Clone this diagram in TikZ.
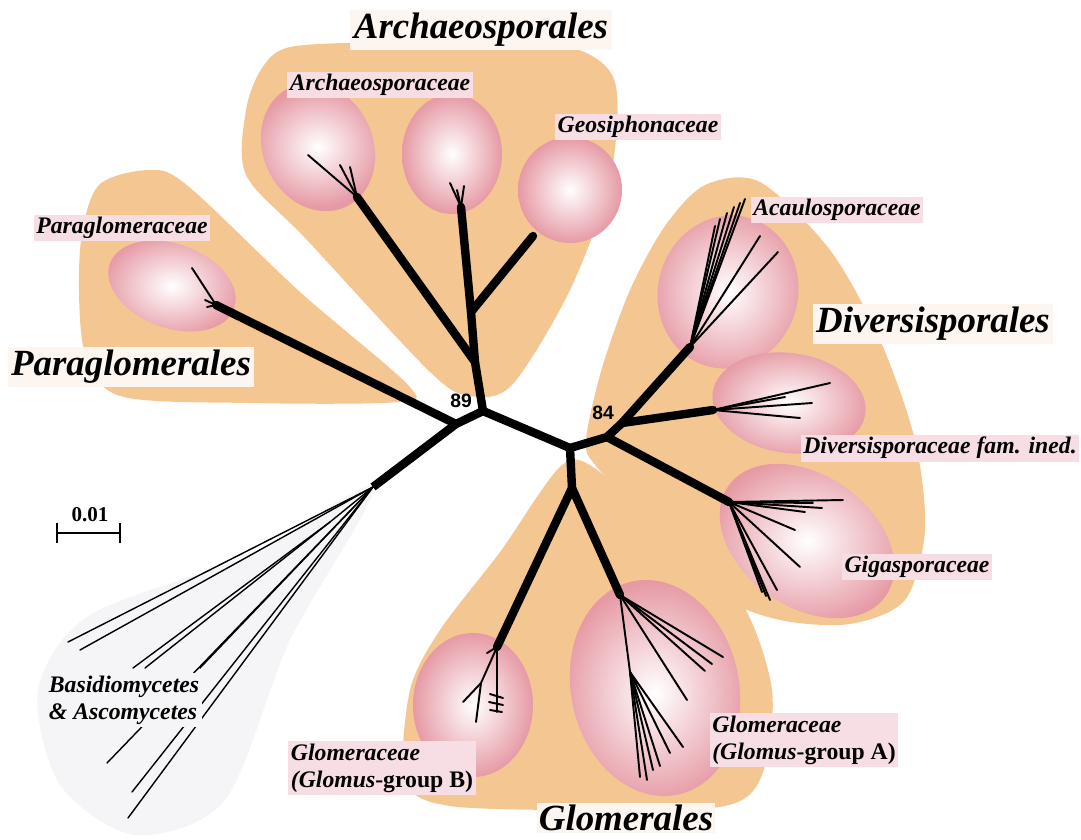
\documentclass[tikz,border=0pt]{standalone}
\usepackage{fontspec}
\setmainfont{Liberation Serif}
\newfontfamily\bootfont{Liberation Sans}
\usetikzlibrary{calc}
\definecolor{ordfill}{RGB}{244,199,146}
\definecolor{famrim}{RGB}{230,154,165}
\definecolor{famlbl}{RGB}{247,222,228}
\definecolor{ordlbl}{RGB}{253,246,240}
\definecolor{ogfill}{RGB}{245,245,247}

\begin{document}
\begin{tikzpicture}[x=0.02cm,y=-0.02cm,
  fam/.style={inner color=white,outer color=famrim},
  stem/.style={line width=4.8pt,line cap=round,line join=round},
  twig/.style={line width=1.1pt,line cap=round},
  hair/.style={line width=0.8pt,line cap=round},
  famname/.style={fill=famlbl,inner sep=1.5pt,align=left,font=\fontsize{13.5}{15.5}\selectfont\bfseries\itshape},
  ordname/.style={fill=ordlbl,inner sep=2pt,font=\fontsize{21}{23}\selectfont\bfseries\itshape},
  boot/.style={inner sep=0pt,font=\bootfont\fontsize{11}{12}\selectfont\bfseries}]
\useasboundingbox (0,0) rectangle (1081,839);
% shaded groups
\fill[ogfill] plot[smooth cycle] coordinates {(373,487) (250,555) (90,615) (38,690) (60,785) (135,835) (225,800) (290,640)};
\fill[ordfill] plot[smooth cycle] coordinates {(290,47) (380,42) (470,42) (570,47) (615,82) (610,180) (570,290) (512,385) (470,396) (430,372) (307,240) (246,175) (246,110) (262,68)};
\fill[ordfill] plot[smooth cycle] coordinates {(98,186) (150,170) (188,186) (300,292) (408,385) (398,402) (250,403) (120,396) (84,350) (80,250)};
\fill[ordfill] plot[smooth cycle] coordinates {(586,440) (602,368) (630,290) (665,226) (705,185) (760,182) (830,250) (880,340) (915,440) (925,530) (905,600) (850,624) (780,620) (720,595) (650,522) (596,466)};
\fill[ordfill] plot[smooth cycle] coordinates {(562,465) (600,472) (670,540) (740,600) (772,690) (762,775) (725,806) (600,810) (450,806) (405,780) (410,690) (440,630) (500,552)};
% families
\shade[fam,rotate around={25:(318,147)}] (318,147) ellipse (55 and 66);
\shade[fam] (452,154) ellipse (50 and 60);
\shade[fam] (570,190) ellipse (52 and 53);
\shade[fam,rotate around={-20:(172,286)}] (172,286) ellipse (66 and 42);
\shade[fam,rotate around={-15:(728,292)}] (728,292) ellipse (70 and 77);
\shade[fam,rotate around={-8:(789,403)}] (789,403) ellipse (77 and 50);
\shade[fam,rotate around={-35:(807,541)}] (807,541) ellipse (96 and 66);
\shade[fam] (473,705) ellipse (60 and 72);
\shade[fam,rotate around={12:(655,688)}] (655,688) ellipse (84 and 109);
% tree
\coordinate (n89) at (483,411); \coordinate (lf) at (456,424); \coordinate (a1) at (475,362); \coordinate (a2) at (471,312);
\coordinate (a1e) at (357,197); \coordinate (a2e) at (461,207); \coordinate (geo) at (533,236); \coordinate (pge) at (216,305);
\coordinate (og) at (373,487); \coordinate (cr) at (570,448); \coordinate (dv) at (607,437); \coordinate (n84) at (622,423);
\coordinate (ac) at (690,347); \coordinate (ds) at (713,410); \coordinate (gi) at (729,502);
\coordinate (gl) at (572,488); \coordinate (gb) at (497,647); \coordinate (ga) at (620,595);
\draw[stem] (pge)--(lf)--(n89)--(a1)--(a2)--(a2e); \draw[stem] (a1)--(a1e); \draw[stem] (a2)--(geo);
\draw[stem,line cap=butt] (lf)--(og);
\draw[stem] (n89)--(cr)--(dv)--(n84)--(ac); \draw[stem] (n84)--(ds); \draw[stem] (dv)--(gi);
\draw[stem] (cr)--(gl)--(gb); \draw[stem] (gl)--(ga);
\foreach \p in {(308,155),(340,165),(350,167)} \draw[twig] (a1e)--\p;
\foreach \p in {(450,183),(464,186),(457,190)} \draw[twig] (a2e)--\p;
\foreach \p in {(192,268),(205,300),(207,307)} \draw[twig] (pge)--\p;
\foreach \p in {(745,199),(740,203),(734,207),(727,213),(720,219),(715,226),(760,236),(778,252)} \draw[twig] (ac)--\p;
\foreach \p in {(830,383),(812,403),(800,418),(785,397)} \draw[twig] (ds)--\p;
\foreach \p in {(843,500),(822,508),(813,503),(805,512),(795,530),(800,567),(770,600),(766,596),(777,590),(762,592)} \draw[twig] (gi)--\p;
\draw[twig] (gb)--(487,653); \draw[twig] (gb)--(481,683)--(463,702); \draw[twig] (481,683)--(476,722); \draw[twig] (gb)--(497,712);
\draw[twig] (490,694)--(503,698); \draw[twig] (489,702)--(503,705); \draw[twig] (490,710)--(502,712);
\foreach \p in {(723,657),(712,664),(705,671),(687,700)} \draw[twig] (ga)--\p;
\coordinate (gam) at (630,672); \draw[twig] (ga)--(gam);
\foreach \p in {(647,780),(653,770),(683,747),(670,753),(640,777),(660,766)} \draw[twig] (gam)--\p;
\foreach \p in {(68,642),(80,650),(200,668),(107,763),(132,792),(128,818)} \draw[hair] (og)--\p;
\coordinate (ogm) at (330,522); \draw[hair] (og)--(ogm);
\foreach \p in {(133,668),(145,668)} \draw[hair] (ogm)--\p;
% scale bar
\coordinate (sb1) at (57,533); \coordinate (sb2) at (120,533);
\draw[line width=1.6pt] (sb1)--(sb2); \draw[line width=1.6pt] ($(sb1)+(0,-10)$)--($(sb1)+(0,10)$); \draw[line width=1.6pt] ($(sb2)+(0,-10)$)--($(sb2)+(0,10)$);
\node[font=\fontsize{12}{13}\selectfont\bfseries] (sbl) at (90,515) {0.01};
% labels
\node[boot] (b89) at (461,401) {89};
\node[boot] (b84) at (603,413) {84};
\node[ordname] (larch) at (481,30) {Archaeosporales};
\node[ordname] (lpara) at (131,367) {Paraglomerales};
\node[ordname] (ldiv) at (933,324) {Diversisporales};
\node[ordname,inner sep=1pt] (lglo) at (626,818) {Glomerales};
\node[famname] (larchf) at (380,85) {Archaeosporaceae};
\node[famname] (lgeo) at (638,127) {Geosiphonaceae};
\node[famname] (lparaf) at (122,228) {Paraglomeraceae};
\node[famname] (lacau) at (837,210) {Acaulosporaceae};
\node[famname] (ldivf) at (940,448) {Diversisporaceae fam. ined.};
\node[famname] (lgiga) at (917,567) {Gigasporaceae};
\node[famname] (lga) at (804,740) {Glomeraceae\\(\textit{Glomus}\textup{-group A)}};
\node[famname] (lgb) at (382,768) {Glomeraceae\\(\textit{Glomus}\textup{-group B)}};
\node[famname,fill=ogfill] (log) at (124,700) {Basidiomycetes\\\& Ascomycetes};
\end{tikzpicture}
\end{document}
